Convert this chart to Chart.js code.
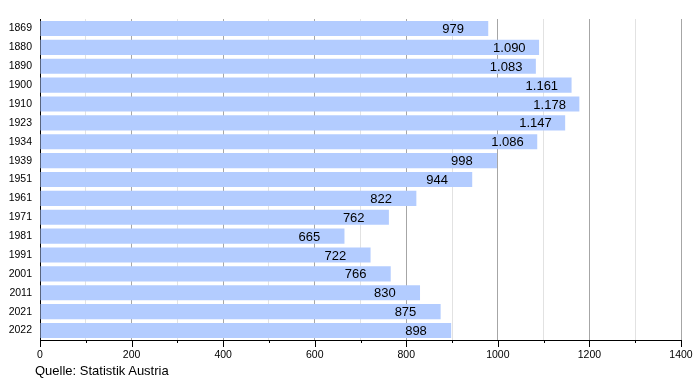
<!DOCTYPE html>
<html>
<head>
<meta charset="utf-8">
<script src="https://cdn.jsdelivr.net/npm/chart.js@4"></script>
<style>
  html, body { margin: 0; padding: 0; background: #fff; }
  #wrap { position: relative; width: 700px; height: 380px; }
  #source { position: absolute; left: 35px; top: 363px; font: 13px "Liberation Sans", Arial, sans-serif; color: #000; white-space: nowrap; }
</style>
</head>
<body>
<div id="wrap">
  <canvas id="c" width="700" height="380"></canvas>
  <div id="source">Quelle: Statistik Austria</div>
</div>
<script>
const years = ["1869","1880","1890","1900","1910","1923","1934","1939","1951","1961","1971","1981","1991","2001","2011","2021","2022"];
const population = [979, 1090, 1083, 1161, 1178, 1147, 1086, 998, 944, 822, 762, 665, 722, 766, 830, 875, 898];
const xMin = 0, xMax = 1400, majorStep = 200, minorStep = 100;

const FONT = '"Liberation Sans", Arial, sans-serif';

function fmtDE(v) {
  return String(v).replace(/\B(?=(\d{3})+(?!\d))/g, '.');
}

const valueLabels = {
  id: 'valueLabels',
  afterDatasetsDraw(chart) {
    const ctx = chart.ctx;
    const meta = chart.getDatasetMeta(0);
    const xs = chart.scales.x;
    ctx.save();
    ctx.font = '13px ' + FONT;
    ctx.fillStyle = '#000';
    ctx.textAlign = 'left';
    ctx.textBaseline = 'middle';
    meta.data.forEach((bar, i) => {
      const v = population[i];
      const xEnd = xs.getPixelForValue(v);
      ctx.fillText(fmtDE(v), xEnd - 46, bar.y + 1);
    });
    ctx.restore();
  }
};

const tickMarks = {
  id: 'tickMarks',
  afterDraw(chart) {
    const ctx = chart.ctx;
    const xs = chart.scales.x;
    const y0 = chart.chartArea.bottom;
    ctx.save();
    ctx.strokeStyle = '#000';
    ctx.lineWidth = 1;
    for (let v = xMin; v <= xMax; v += minorStep) {
      const px = Math.round(xs.getPixelForValue(v)) + 0.5;
      const len = (v % majorStep === 0) ? 7 : 3;
      ctx.beginPath();
      ctx.moveTo(px, y0);
      ctx.lineTo(px, y0 + len);
      ctx.stroke();
    }
    ctx.restore();
  }
};

new Chart(document.getElementById('c'), {
  type: 'bar',
  data: {
    labels: years,
    datasets: [{
      data: population,
      backgroundColor: 'rgb(179,204,255)',
      borderWidth: 0,
      categoryPercentage: 1.0,
      barPercentage: 0.8
    }]
  },
  options: {
    indexAxis: 'y',
    responsive: false,
    animation: false,
    events: [],
    layout: { padding: { top: 19, right: 19, left: 0, bottom: 0 } },
    plugins: { legend: { display: false }, tooltip: { enabled: false } },
    scales: {
      x: {
        type: 'linear',
        min: xMin,
        max: xMax,
        afterFit(scale) { scale.height = 40; scale.paddingLeft = 0; scale.paddingRight = 0; },
        ticks: {
          stepSize: minorStep,
          autoSkip: false,
          maxRotation: 0,
          padding: 9,
          color: '#000',
          font: { family: FONT, size: 10.5 },
          callback: (v) => (v % majorStep === 0 ? String(v) : '')
        },
        grid: {
          drawTicks: false,
          color: (ctx) => {
            const v = ctx.tick ? ctx.tick.value : 0;
            if (v === 0) return 'rgba(0,0,0,0)';
            return v % majorStep === 0 ? '#a6a6a6' : '#e2e2e2';
          },
          lineWidth: 1
        },
        border: { display: true, color: '#000', width: 1 }
      },
      y: {
        afterFit(scale) { scale.width = 40; scale.paddingTop = 0; scale.paddingBottom = 0; },
        ticks: {
          padding: 8,
          color: '#000',
          font: { family: FONT, size: 10.5 },
          autoSkip: false
        },
        grid: { display: false, drawTicks: false },
        border: { display: true, color: '#000', width: 1 }
      }
    }
  },
  plugins: [valueLabels, tickMarks]
});
</script>
</body>
</html>
